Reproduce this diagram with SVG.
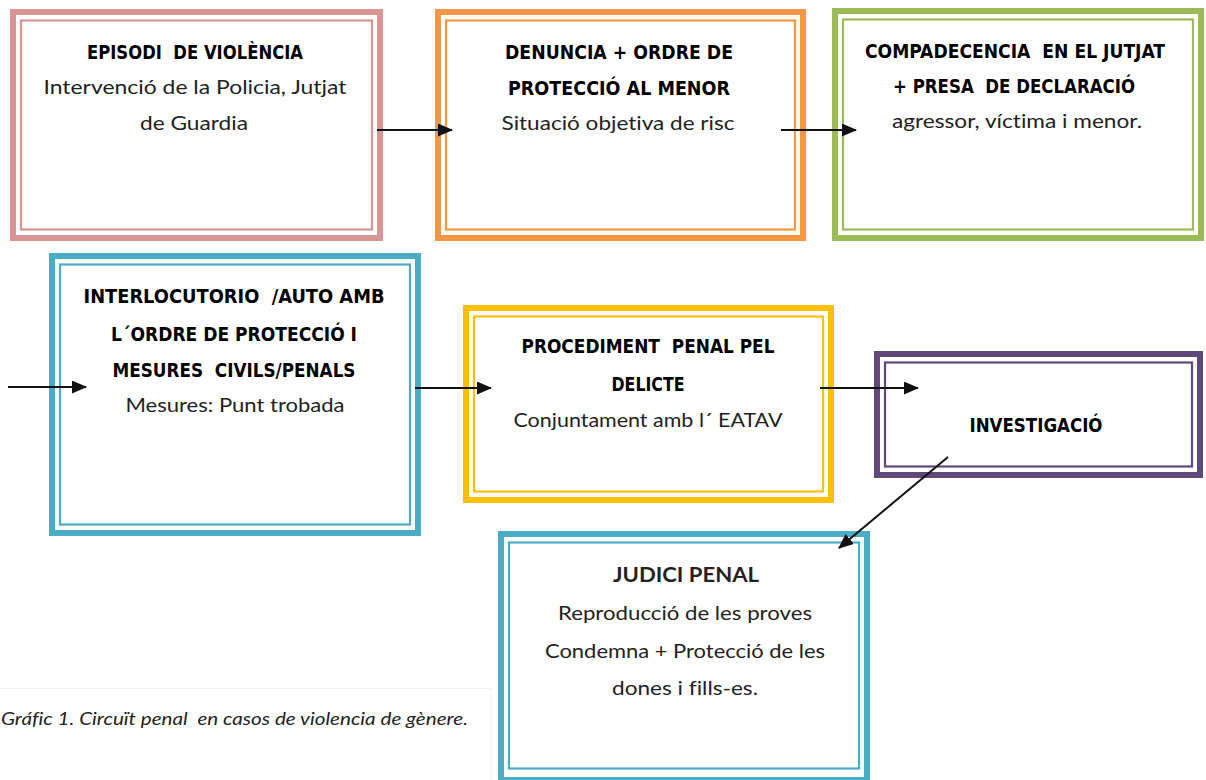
<svg xmlns="http://www.w3.org/2000/svg" width="1206" height="780" viewBox="0 0 1206 780">
<style>
.outer{fill:#fff;stroke-width:6}
.inner{fill:none;stroke-width:2.2}
text{white-space:pre;font-variant-ligatures:none}
.h{font-family:"DejaVu Sans Condensed","DejaVu Sans","Liberation Sans",sans-serif;font-stretch:condensed;font-weight:bold;font-size:19px;fill:#000;text-anchor:middle}
.t{font-family:Lato,"Liberation Sans",sans-serif;font-size:20px;fill:#222;text-anchor:middle}
.conn{stroke:#111;stroke-width:2;fill:none}
.cap{font-family:Lato,"Liberation Sans",sans-serif;font-style:italic;font-size:18px;fill:#222}
</style>
<defs>
<marker id="ah" markerUnits="userSpaceOnUse" markerWidth="15" markerHeight="13" refX="14" refY="6.5" orient="auto">
<path d="M0,0 L15,6.5 L0,13 z" fill="#111"/>
</marker>
</defs>
<rect width="1206" height="780" fill="#fff"/>
<rect x="-1" y="688.5" width="492" height="100" fill="none" stroke="#f0f0f0" stroke-width="1"/>

<g id="n1">
<rect class="outer" x="13" y="12" width="367" height="226" stroke="#D99594"/>
<rect class="inner" x="21" y="20.5" width="351" height="209" stroke="#D99594"/>
<text class="h" x="195" y="59" textLength="216" lengthAdjust="spacingAndGlyphs">EPISODI  DE VIOLÈNCIA</text>
<text class="t" x="195" y="94" textLength="303" lengthAdjust="spacingAndGlyphs">Intervenció de la Policia, Jutjat</text>
<text class="t" x="194" y="130" textLength="108" lengthAdjust="spacingAndGlyphs">de Guardia</text>
</g>

<g id="n2">
<rect class="outer" x="438" y="12" width="365" height="226" stroke="#F79646"/>
<rect class="inner" x="446" y="20.5" width="349" height="209" stroke="#F79646"/>
<text class="h" x="619" y="59" textLength="228" lengthAdjust="spacingAndGlyphs">DENUNCIA + ORDRE DE</text>
<text class="h" x="619" y="95" textLength="222" lengthAdjust="spacingAndGlyphs">PROTECCIÓ AL MENOR</text>
<text class="t" x="618" y="130" textLength="233" lengthAdjust="spacingAndGlyphs">Situació objetiva de risc</text>
</g>

<g id="n3">
<rect class="outer" x="835" y="11" width="366" height="227" stroke="#9BBB59"/>
<rect class="inner" x="843" y="19.5" width="350" height="210" stroke="#9BBB59"/>
<text class="h" x="1015" y="58" textLength="300" lengthAdjust="spacingAndGlyphs">COMPADECENCIA  EN EL JUTJAT</text>
<text class="h" x="1014" y="93" textLength="242" lengthAdjust="spacingAndGlyphs">+ PRESA  DE DECLARACIÓ</text>
<text class="t" x="1017" y="128" textLength="250" lengthAdjust="spacingAndGlyphs">agressor, víctima i menor.</text>
</g>

<g id="n4">
<rect class="outer" x="52" y="256" width="366" height="277" stroke="#4BACC6"/>
<rect class="inner" x="60" y="264.5" width="350" height="260" stroke="#4BACC6"/>
<text class="h" x="234" y="303" textLength="301" lengthAdjust="spacingAndGlyphs">INTERLOCUTORIO  /AUTO AMB</text>
<text class="h" x="234" y="341" textLength="246" lengthAdjust="spacingAndGlyphs">L´ORDRE DE PROTECCIÓ I</text>
<text class="h" x="234" y="377" textLength="243" lengthAdjust="spacingAndGlyphs">MESURES  CIVILS/PENALS</text>
<text class="t" x="235" y="412" textLength="219" lengthAdjust="spacingAndGlyphs">Mesures: Punt trobada</text>
</g>

<g id="n5">
<rect class="outer" x="466" y="308" width="365" height="192" stroke="#FFC000"/>
<rect class="inner" x="474" y="316.5" width="349" height="175" stroke="#FFC000"/>
<text class="h" x="648" y="353" textLength="253" lengthAdjust="spacingAndGlyphs">PROCEDIMENT  PENAL PEL</text>
<text class="h" x="648" y="391" textLength="73" lengthAdjust="spacingAndGlyphs">DELICTE</text>
<text class="t" x="648" y="427" textLength="269" lengthAdjust="spacingAndGlyphs">Conjuntament amb l´ EATAV</text>
</g>

<g id="n6">
<rect class="outer" x="877" y="354" width="323" height="121" stroke="#5F497A"/>
<rect class="inner" x="885" y="362.5" width="307" height="104" stroke="#5F497A"/>
<text class="h" x="1036" y="432" textLength="133" lengthAdjust="spacingAndGlyphs">INVESTIGACIÓ</text>
</g>

<g id="n7">
<rect class="outer" x="501" y="534" width="366" height="246" stroke="#4BACC6"/>
<rect class="inner" x="509" y="542.5" width="350" height="226" stroke="#4BACC6"/>
<text class="t" x="686" y="582" textLength="146" lengthAdjust="spacingAndGlyphs" font-weight="bold" fill="#000">JUDICI PENAL</text>
<text class="t" x="685" y="620" textLength="254" lengthAdjust="spacingAndGlyphs">Reproducció de les proves</text>
<text class="t" x="685" y="658" textLength="280" lengthAdjust="spacingAndGlyphs">Condemna + Protecció de les</text>
<text class="t" x="685" y="695" textLength="146" lengthAdjust="spacingAndGlyphs">dones i fills-es.</text>
</g>

<g id="connectors">
<line class="conn" x1="377" y1="130" x2="452" y2="130" marker-end="url(#ah)"/>
<line class="conn" x1="781" y1="130" x2="856" y2="130" marker-end="url(#ah)"/>
<line class="conn" x1="8" y1="387" x2="86" y2="387" marker-end="url(#ah)"/>
<line class="conn" x1="415" y1="388" x2="491" y2="388" marker-end="url(#ah)"/>
<line class="conn" x1="820" y1="388" x2="918" y2="388" marker-end="url(#ah)"/>
<line class="conn" x1="948" y1="457" x2="839" y2="548" marker-end="url(#ah)"/>
</g>

<text class="cap" x="1" y="725" textLength="467" lengthAdjust="spacingAndGlyphs">Gráfic 1. Circuït penal  en casos de violencia de gènere.</text>
</svg>
